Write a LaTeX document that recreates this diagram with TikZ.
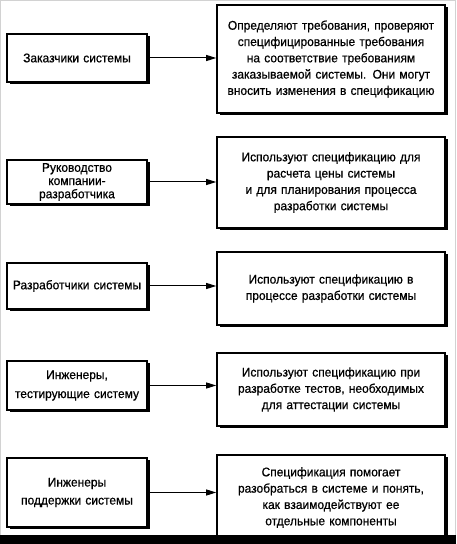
\documentclass[tikz,border=0pt]{standalone}
\usepackage{fontspec}
\setmainfont[FakeStretch=0.95,FakeBold=0.6]{Liberation Sans}
\usetikzlibrary{shadows,arrows.meta}
\begin{document}
\begin{tikzpicture}[x=1pt,y=1pt,
 box/.style={draw, line width=1.6pt, fill=white, align=center, inner sep=2pt,
   drop shadow={shadow xshift=2.5pt, shadow yshift=-2.5pt, fill=black, opacity=1}},
 lbox/.style={box, minimum width=140pt, text width=134pt, font=\fontsize{12.6}{14.5}\selectfont},
 rbox/.style={box, minimum width=228pt, text width=224pt, font=\fontsize{12.6}{16.3}\selectfont},
 conn/.style={-{Triangle[length=10pt,width=6pt]}, line width=1pt}]
\useasboundingbox (0,0) rectangle (456,544);
\draw[gray!35, line width=0.8pt] (0.5,0.5) rectangle (455.5,543.5);
\node[lbox, minimum height=48pt] (l1) at (77,486) {Заказчики системы};
\node[lbox, minimum height=44pt, font=\fontsize{12.6}{13.2}\selectfont] (l2) at (77,362) {Руководство\\компании-\\разработчика};
\node[lbox, minimum height=46pt] (l3) at (77,258) {Разработчики системы};
\node[lbox, minimum height=49pt, font=\fontsize{12.6}{19}\selectfont] (l4) at (77,158.5) {Инженеры,\\тестирующие систему};
\node[lbox, minimum height=69pt, font=\fontsize{12.6}{18}\selectfont] (l5) at (77,51.5) {Инженеры\\поддержки системы};
\node[rbox, minimum height=108pt] (r1) at (331,485) {Определяют требования, проверяют\\специфицированные требования\\на соответствие требованиям\\заказываемой системы. Они могут\\вносить изменения в спецификацию};
\node[rbox, minimum height=91pt] (r2) at (331,361.5) {Используют спецификацию для\\расчета цены системы\\и для планирования процесса\\разработки системы};
\node[rbox, minimum height=73pt] (r3) at (331,255.5) {Используют спецификацию в\\процессе разработки системы};
\node[rbox, minimum height=73pt] (r4) at (331,154.5) {Используют спецификацию при\\разработке тестов, необходимых\\для аттестации системы};
\node[rbox, minimum height=85pt] (r5) at (331,46.5) {Спецификация помогает\\разобраться в системе и понять,\\как взаимодействуют ее\\отдельные компоненты};
\foreach \i in {1,...,5} {\draw[conn] (l\i.east) -- (l\i.east -| r\i.west);}
\fill[black] (0,0) rectangle (456,9);
\end{tikzpicture}
\end{document}
